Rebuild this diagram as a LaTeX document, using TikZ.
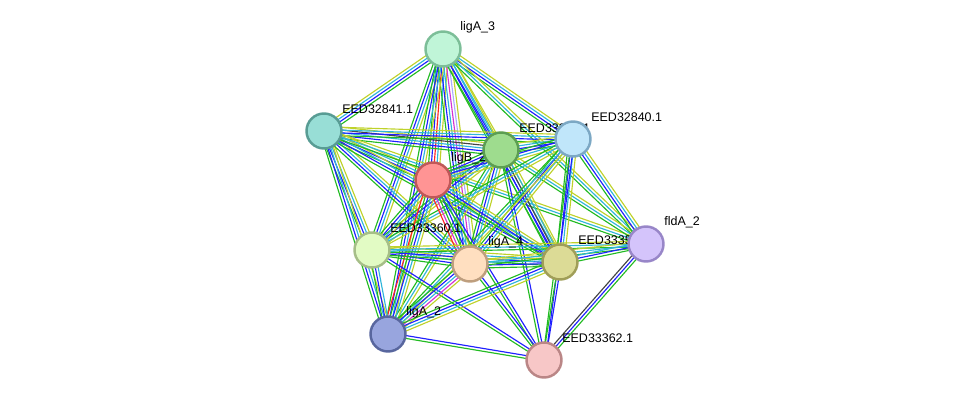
\documentclass[tikz,border=0pt]{standalone}
\usepackage{fontspec}
\setmainfont{Liberation Sans}
\usetikzlibrary{calc,positioning}

\definecolor{eg}{HTML}{22BB22}
\definecolor{eb}{HTML}{1F1FFF}
\definecolor{ec}{HTML}{2FB5DA}
\definecolor{ey}{HTML}{BFD22A}
\definecolor{ek}{HTML}{444444}
\definecolor{er}{HTML}{FF2222}
\definecolor{em}{HTML}{D333D3}
\definecolor{el}{HTML}{AAAAFF}

\pgfdeclarelayer{edges}
\pgfdeclarelayer{labels}
\pgfsetlayers{edges,labels,main}

% one bundle of parallel evidence lines between two proteins
\newcommand\lnk[3]{%
  \foreach \c [count=\n] in {#3} {\xdef\nlines{\n}}%
  \foreach \c [count=\i] in {#3} {%
    \pgfmathsetmacro\off{(\i-(\nlines+1)/2)*1.6}%
    \draw[evidence, draw=\c] ($(#1)!\off pt!90:(#2)$) -- ($(#2)!\off pt!-90:(#1)$);
  }}

\begin{document}
\begin{tikzpicture}[
    x=0.02cm, y=-0.02cm,
    prot/.style={
      circle,
      line width=1.4pt,
      minimum size=0.7cm,
      inner sep=0pt
    },
    lbl/.style={
      anchor=west,
      inner sep=0pt,
      font=\fontsize{7.1}{9}\selectfont
    },
    evidence/.style={line width=0.65pt}
]
  \useasboundingbox (0,0) rectangle (975,406);

  % Proteins
  \node[prot, fill={rgb,255:red,192;green,245;blue,216}, draw={rgb,255:red,124;green,190;blue,152}] (ligA3) at (443,49) {};
  \node[prot, fill={rgb,255:red,152;green,222;blue,214}, draw={rgb,255:red,88;green,156;blue,148}] (eed32841) at (324,131) {};
  \node[prot, fill={rgb,255:red,158;green,220;blue,142}, draw={rgb,255:red,92;green,158;blue,82}] (eed33361) at (501,150) {};
  \node[prot, fill={rgb,255:red,192;green,230;blue,250}, draw={rgb,255:red,124;green,168;blue,196}] (eed32840) at (573,139) {};
  \node[prot, fill={rgb,255:red,255;green,148;blue,148}, draw={rgb,255:red,192;green,88;blue,88}] (ligB2) at (433,180) {};
  \node[prot, fill={rgb,255:red,226;green,251;blue,196}, draw={rgb,255:red,166;green,190;blue,136}] (eed33360) at (372,250) {};
  \node[prot, fill={rgb,255:red,255;green,223;blue,192}, draw={rgb,255:red,190;green,158;blue,126}] (ligA4) at (470,264) {};
  \node[prot, fill={rgb,255:red,220;green,219;blue,150}, draw={rgb,255:red,160;green,158;blue,88}] (eed33359) at (560,262) {};
  \node[prot, fill={rgb,255:red,212;green,196;blue,251}, draw={rgb,255:red,152;green,134;blue,200}] (fldA2) at (646,244) {};
  \node[prot, fill={rgb,255:red,152;green,165;blue,222}, draw={rgb,255:red,88;green,102;blue,158}] (ligA2) at (388,334) {};
  \node[prot, fill={rgb,255:red,247;green,199;blue,199}, draw={rgb,255:red,186;green,134;blue,134}] (eed33362) at (544,360) {};

  % Labels
  \begin{pgfonlayer}{labels}
    \node[lbl] at ($(ligA3)+(17,-22)$) {ligA\_3};
    \node[lbl] at ($(eed32841)+(18,-22)$) {EED32841.1};
    \node[lbl] at ($(eed33361)+(18,-22)$) {EED33361.1};
    \node[lbl] at ($(eed32840)+(18,-22)$) {EED32840.1};
    \node[lbl] at ($(ligB2)+(18,-22)$) {ligB\_2};
    \node[lbl] at ($(eed33360)+(18,-22)$) {EED33360.1};
    \node[lbl] at ($(ligA4)+(18,-22)$) {ligA\_4};
    \node[lbl] at ($(eed33359)+(18,-22)$) {EED33359.1};
    \node[lbl] at ($(fldA2)+(18,-22)$) {fldA\_2};
    \node[lbl] at ($(ligA2)+(18,-22)$) {ligA\_2};
    \node[lbl] at ($(eed33362)+(18,-22)$) {EED33362.1};
  \end{pgfonlayer}

  % Interactions
  \begin{pgfonlayer}{edges}
    \lnk{ligA3}{eed32841}{ey,ec,eb,eg}
    \lnk{ligA3}{eed33361}{eg,eb,ec,ey}
    \lnk{ligA3}{eed32840}{eg,eb,ec,ey}
    \lnk{ligA3}{ligB2}{eg,eb,er,ec,ey}
    \lnk{ligA3}{eed33360}{eg,eb,ec,ey}
    \lnk{ligA3}{ligA4}{eg,eb,ec,em,el,ey}
    \lnk{ligA3}{eed33359}{eg,eb,ec,ey}
    \lnk{ligA3}{fldA2}{eg,ec,ey}
    \lnk{ligA3}{ligA2}{eg,eb,ec,ey}
    \lnk{eed32841}{eed33361}{eg,eb,ec,ek,ey}
    \lnk{eed32841}{eed32840}{eg,eb,ec,ey}
    \lnk{eed32841}{ligB2}{eg,eb,ec,ey}
    \lnk{eed32841}{eed33360}{eg,eb,ec,ey}
    \lnk{eed32841}{ligA4}{eg,eb,ec,ey}
    \lnk{eed32841}{eed33359}{eg,eb,ec,ey}
    \lnk{eed32841}{ligA2}{eg,eb,ec,ey}
    \lnk{eed32841}{fldA2}{eg,ec,ey}
    \lnk{eed33361}{eed32840}{eg,eb,ec,ey}
    \lnk{eed33361}{ligB2}{eg,eb,ec,ey}
    \lnk{eed33361}{eed33360}{eg,eb,ec,ey}
    \lnk{eed33361}{ligA4}{eg,eb,ec,ey}
    \lnk{eed33361}{eed33359}{eg,eb,ek,ec,ey}
    \lnk{eed33361}{ligA2}{eg,ec,ey}
    \lnk{eed33361}{eed33362}{eg,eb}
    \lnk{eed33361}{fldA2}{eg,ec,ey}
    \lnk{eed32840}{ligB2}{eg,eb,ec,ey}
    \lnk{eed32840}{eed33360}{eg,ec,ey}
    \lnk{eed32840}{ligA4}{eg,eb,ec,ey}
    \lnk{eed32840}{eed33359}{eg,eb,ec,ey}
    \lnk{eed32840}{fldA2}{eg,eb,ec,ey}
    \lnk{eed32840}{eed33362}{eg,eb}
    \lnk{eed32840}{ligA2}{eg,ec,ey}
    \lnk{ligB2}{eed33360}{eg,eb,ec,ey}
    \lnk{ligB2}{ligA4}{er,em,eg,eb,ec,ey}
    \lnk{ligB2}{eed33359}{eg,eb,ec,ey}
    \lnk{ligB2}{ligA2}{er,eg,eb,ec,ey}
    \lnk{ligB2}{eed33362}{eg,eb}
    \lnk{eed33360}{ligA4}{eg,eb,ec,ey}
    \lnk{eed33360}{eed33359}{eg,eb,ec,ey}
    \lnk{eed33360}{ligA2}{eg,eb,ec}
    \lnk{eed33360}{eed33362}{eg,eb}
    \lnk{eed33360}{fldA2}{eg,ec,ey}
    \lnk{ligA4}{eed33359}{eg,eb,ec,ey}
    \lnk{ligA4}{ligA2}{eg,eb,ec,em,ey}
    \lnk{ligA4}{eed33362}{eg,eb}
    \lnk{ligA4}{fldA2}{eg,ec,ey}
    \lnk{eed33359}{fldA2}{eg,eb,ec}
    \lnk{eed33359}{eed33362}{eg,eb}
    \lnk{eed33359}{ligA2}{eg,eb,ec,ey}
    \lnk{fldA2}{eed33362}{ek,eb,eg}
    \lnk{ligA2}{eed33362}{eg,eb}
  \end{pgfonlayer}
\end{tikzpicture}
\end{document}
